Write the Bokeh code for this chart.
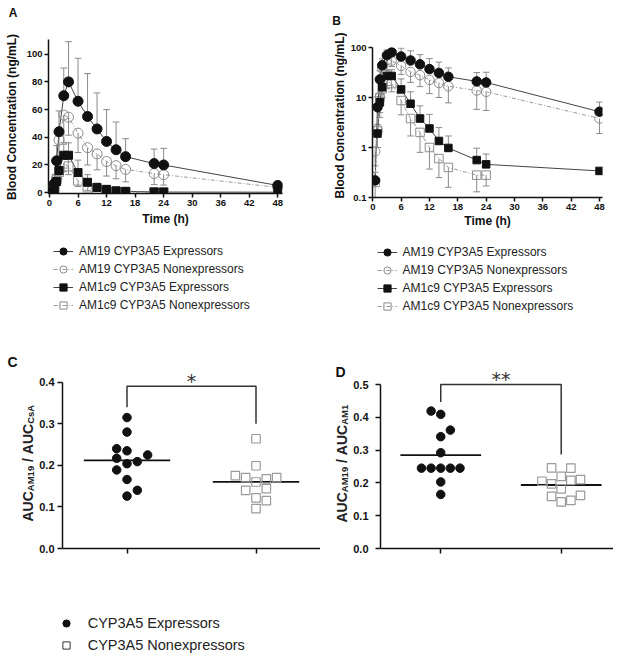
import numpy as np
from bokeh.plotting import figure
from bokeh.layouts import column, row
from bokeh.models import (Range1d, FixedTicker, CustomJSTickFormatter, PrintfTickFormatter,
                          Legend, LegendItem)
from bokeh.core.properties import value
from bokeh.embed import file_html
from bokeh.resources import INLINE

nan = float("nan")

# ---------------- data: panels A / B (mean, SD; ng/mL) ----------------
time_h = [0, 0.5, 1, 1.5, 2, 3, 4, 6, 8, 10, 12, 14, 16, 22, 24, 48]
am19_exp_mean = [0, 0.22, 6.4, 23, 44, 70, 80, 66, 55, 46, 37, 31, 26, 21, 20, 5.2]
am19_exp_sd = [0, 0.1, 4, 11, 15, 20, 29, 31, 31, 26, 23, 20, 13, 10.5, 12, 2.9]
am19_non_mean = [0, 0.83, 2.2, 10, 38, 56, 54.5, 43, 32.5, 28, 22.5, 19.5, 16.8, 13.8, 13, 3.8]
am19_non_sd = [0, 0.4, 1.2, 6, 20, 20, 13, 14, 12.5, 11.5, 10.5, 9.5, 9, 8, 7.5, 1.9]
am1c9_exp_mean = [0, 0, 1.9, 8, 16, 27, 27, 14.5, 7.5, 3.8, 2.4, 1.35, 0.98, 0.56, 0.46, 0.34]
am1c9_exp_sd = [0, 0, 1.0, 4, 8, 8, 9, 9, 5.5, 3, 2.2, 1.15, 0.72, 0.41, 0.28, 0]
am1c9_non_mean = [0, 0.2, 2.2, 10, 15, 21, 19, 8.7, 3.8, 2.0, 1.0, 0.6, 0.4, 0.28, 0.28, nan]
am1c9_non_sd = [0, 0.1, 1.2, 5, 5, 6, 6, 4.2, 2.1, 1.2, 0.63, 0.35, 0.24, 0.15, 0.11, nan]
series_labels = ["AM19 CYP3A5 Expressors", "AM19 CYP3A5 Nonexpressors",
                 "AM1c9 CYP3A5 Expressors", "AM1c9 CYP3A5 Nonexpressors"]
pk_ylabel = "Blood Concentration (ng/mL)"
pk_xlabel = "Time (h)"

lin_x_ticks = [0, 6, 12, 18, 24, 30, 36, 42, 48]
lin_y_ticks = [0, 20, 40, 60, 80, 100]
log_y_ticks = [0.1, 1, 10, 100]

# ---------------- data: panels C / D (AUC ratios per subject) ----------------
groups = ["CYP3A5 Expressors", "CYP3A5 Nonexpressors"]
c_exp = [0.315, 0.28, 0.24, 0.235, 0.225, 0.217, 0.209, 0.204, 0.189, 0.166, 0.14, 0.126]
c_exp_col = [0, 0, -1, 0, 2, -1, 1, 0, -1, 0, 1, 0]
c_non = [0.264, 0.199, 0.1755, 0.1707, 0.160, 0.1675, 0.1707, 0.140, 0.144, 0.122, 0.115, 0.096]
c_non_col = [0, 0, -2, -1, 0, 1, 2, -1, 1, 0, 1, 0]
d_exp = [0.419, 0.409, 0.361, 0.341, 0.292, 0.245, 0.245, 0.245, 0.245, 0.245, 0.203, 0.165]
d_exp_col = [-1, 0, 1, 0, 0, -2, -1, 0, 1, 2, 0, 0]
d_non = [0.246, 0.245, 0.22, 0.205, 0.197, 0.208, 0.21, 0.182, 0.159, 0.162, 0.142, 0.147]
d_non_col = [-1, 1, 0, -2, -1, 1, 2, 0, -1, 2, 0, 1]
c_ticks = [0.0, 0.1, 0.2, 0.3, 0.4]
d_ticks = [0.0, 0.1, 0.2, 0.3, 0.4, 0.5]
sig_c, sig_d = "*", "**"
panel_letters = ["A", "B", "C", "D"]

# ---------------- styles ----------------
FONT = "Liberation Sans"
INK = "#111111"
GRAY = "#8c8c8c"
EB = "#8a8a8a"
styles = [
    dict(marker="circle", fill=INK, line=INK, lcol="#444444", dash="solid", size=10),
    dict(marker="circle", fill=None, line=GRAY, lcol="#9a9a9a", dash="4 2 1 2", size=10),
    dict(marker="square", fill=INK, line=INK, lcol="#444444", dash="solid", size=8),
    dict(marker="square", fill=None, line=GRAY, lcol="#9a9a9a", dash="4 2 1 2", size=9),
]
directions = [1, -1, 1, -1]
means = [am19_exp_mean, am19_non_mean, am1c9_exp_mean, am1c9_non_mean]
sds = [am19_exp_sd, am19_non_sd, am1c9_exp_sd, am1c9_non_sd]


def style_axes(p, tick_size):
    for ax in p.axis:
        ax.axis_line_width = 1.5
        ax.axis_line_color = INK
        ax.major_tick_line_width = 1.5
        ax.major_tick_line_color = INK
        ax.major_tick_in = 0
        ax.major_tick_out = 4
        ax.minor_tick_line_color = None
        ax.major_label_text_font = FONT
        ax.major_label_text_font_size = tick_size
        ax.major_label_text_font_style = "bold"
        ax.major_label_text_color = INK
        ax.major_label_standoff = 2
        ax.axis_label_text_font = FONT
        ax.axis_label_text_font_size = "12px"
        ax.axis_label_text_font_style = "bold"
        ax.axis_label_text_color = INK
    p.grid.visible = False
    p.outline_line_color = None


def strip(w, h):
    s = figure(width=w, height=h, x_range=Range1d(0, w), y_range=Range1d(0, h),
               x_axis_type=None, y_axis_type=None, min_border=0, toolbar_location=None,
               output_backend="svg", outline_line_color=None, frame_align=False)
    s.grid.visible = False
    return s


def put_text(s, x, y, txt, size, angle=0.0, align="left", baseline="middle",
             font=FONT, style="bold", color=INK):
    s.text(x=[x], y=[y], text=[txt], angle=angle, text_font=value(font),
           text_font_size=size, text_font_style=style, text_align=align,
           text_baseline=baseline, text_color=color)


def pk_panel(log):
    common = dict(toolbar_location=None, output_backend="svg", height=232, frame_align=False)
    if not log:
        p = figure(width=287, x_range=Range1d(-0.21, 48.99), y_range=Range1d(-0.6, 110.6),
                   min_border_left=25, min_border_right=28, min_border_top=39,
                   min_border_bottom=39, **common)
    else:
        p = figure(width=266, y_axis_type="log", x_range=Range1d(-0.06, 48.63),
                   y_range=Range1d(0.1, 100), min_border_left=24, min_border_right=11,
                   min_border_top=47, min_border_bottom=35, **common)
    cap = 1.4
    prepared = []
    for m, s in zip(means, sds):
        t = np.asarray(time_h, float)
        m = np.asarray(m, float)
        s = np.asarray(s, float)
        ok = ~np.isnan(m)
        if log:
            ok &= m > 0
        prepared.append((t[ok], m[ok], s[ok]))
    for (t, m, s), d in zip(prepared, directions):
        e = s > 0
        end = m[e] + d * s[e]
        p.segment(t[e], m[e], t[e], end, line_color=EB, line_width=1)
        p.segment(t[e] - cap / 2, end, t[e] + cap / 2, end, line_color=EB, line_width=1)
    for (t, m, s), st in zip(prepared, styles):
        p.line(t, m, line_color=st["lcol"], line_width=1, line_dash=st["dash"])
    for i in [1, 3, 0, 2]:
        t, m, s = prepared[i]
        st = styles[i]
        p.scatter(t, m, marker=st["marker"], size=st["size"] if not log else st["size"] - 0.5,
                  fill_color=st["fill"], line_color=st["line"], line_width=1)
    p.xaxis.ticker = FixedTicker(ticks=lin_x_ticks, minor_ticks=[])
    if log:
        p.yaxis.ticker = FixedTicker(ticks=log_y_ticks, minor_ticks=[])
        p.yaxis.formatter = CustomJSTickFormatter(
            code="return tick < 1 ? tick.toFixed(1) : tick.toFixed(0);")
    else:
        p.yaxis.ticker = FixedTicker(ticks=lin_y_ticks, minor_ticks=[])
    p.xaxis.axis_label = pk_xlabel
    style_axes(p, "9.5px")
    p.xaxis.axis_label_standoff = 3 if not log else 1
    return p


# ---- row 1: A, B ----
sA = strip(23, 232)
put_text(sA, 8.3, 219.6, panel_letters[0], "12px")
put_text(sA, 11, 115.6, pk_ylabel, "12px", angle=np.pi / 2, align="center")
pA = pk_panel(False)
sB = strip(37, 232)
put_text(sB, 21.7, 211.7, panel_letters[1], "12px")
put_text(sB, 29.5, 117, pk_ylabel, "12px", angle=np.pi / 2, align="center")
pB = pk_panel(True)


# ---- row 2: legends of A, B ----
def pk_legend(width, lx, ly):
    p = figure(width=width, height=88, x_range=Range1d(0, 1), y_range=Range1d(0, 1),
               x_axis_type=None, y_axis_type=None, min_border=0, toolbar_location=None,
               output_backend="svg", outline_line_color=None, frame_align=False)
    p.grid.visible = False
    items = []
    for lab, st in zip(series_labels, styles):
        r1 = p.line([-10, -9], [-10, -10], line_color=st["lcol"], line_width=1,
                    line_dash=st["dash"])
        r2 = p.scatter([-10], [-10], marker=st["marker"], fill_color=st["fill"],
                       line_color=st["line"], line_width=1)
        items.append(LegendItem(label=lab, renderers=[r1, r2]))
    leg = Legend(items=items, location=(lx, ly), border_line_color=None,
                 background_fill_alpha=0, padding=0, margin=0, spacing=0,
                 glyph_width=20, glyph_height=18, label_height=18, label_standoff=6,
                 label_text_font=FONT, label_text_font_size="12px", label_text_color="#222222")
    p.add_layout(leg)
    return p


lA = pk_legend(310, 53, 6)
lB = pk_legend(303, 66.5, 4.7)


# ---- row 3: C, D ----
def dot_panel(width, vals_e, col_e, vals_n, col_n, ticks, y_top, y_end, x_end, border_left,
              border_top, frame_h, standoff, bracket, sig, sig_y):
    p = figure(width=width, height=242, x_range=Range1d(0.5, x_end), y_range=Range1d(0, y_end),
               min_border_left=border_left, min_border_right=0,
               min_border_top=border_top, min_border_bottom=242 - border_top - frame_h,
               toolbar_location=None, output_backend="svg", frame_align=False)
    step = 0.08
    xe = 1 + step * np.asarray(col_e, float)
    xn = 2 + step * np.asarray(col_n, float)
    half = 0.335
    me, mn = float(np.mean(vals_e)), float(np.mean(vals_n))
    p.segment([1 - half, 2 - half], [me, mn], [1 + half, 2 + half], [me, mn],
              line_color=INK, line_width=1.8)
    p.scatter(xe, vals_e, marker="circle", size=8.5, fill_color=INK, line_color=INK)
    p.scatter(xn, vals_n, marker="square", size=8.5, fill_color=None, line_color="#9a9a9a",
              line_width=1.2)
    top, left_end, right_end = bracket
    p.line([1, 1, 2, 2], [left_end, top, top, right_end], line_color="#333333", line_width=1.5)
    p.text(x=[1.5], y=[sig_y], text=[sig], text_font=value("DejaVu Sans"),
           text_font_size="19px", text_align="center", text_baseline="middle",
           text_color="#333333")
    p.xaxis.ticker = FixedTicker(ticks=[1, 2], minor_ticks=[])
    p.xaxis.formatter = CustomJSTickFormatter(code="return '';")
    p.yaxis.ticker = FixedTicker(ticks=ticks, minor_ticks=[])
    p.yaxis.formatter = PrintfTickFormatter(format="%.1f")
    p.yaxis.bounds = (0, y_top)
    style_axes(p, "11px")
    for ax in p.axis:
        ax.major_tick_out = 5
    p.xaxis.major_label_text_font_size = "1px"
    p.yaxis.major_label_standoff = standoff
    return p


ADV = {"A": .722, "U": .722, "C": .722, "M": .833, "1": .556, "9": .556, "s": .556,
       "/": .278, " ": .278}


def auc_label(s, x_mid, y0, sub2):
    big, small = 14, 9.5
    parts = [("AUC", big), ("AM19", small), (" ", big), ("/", big), (" ", big),
             ("AUC", big), (sub2, small)]
    y = y0
    for txt, fs in parts:
        w = sum(ADV[c] for c in txt) * fs
        if txt.strip():
            xm = x_mid if fs > 10 else x_mid + 3
            put_text(s, xm, y, txt, f"{fs}px", angle=np.pi / 2, color="#222222")
        y += w


sC = strip(36, 242)
put_text(sC, 7, 200.5, panel_letters[2], "14px")
auc_label(sC, 27, 41, "CsA")
pC = dot_panel(284, c_exp, c_exp_col, c_non, c_non_col, c_ticks, 0.4, 0.4354, 2.5, 24,
               47, 181, 3, (0.39, 0.34, 0.30), sig_c, 0.404)
sD = strip(30, 242)
put_text(sD, 15, 191, panel_letters[3], "14px")
auc_label(sD, 21, 40, "AM1")
pD = dot_panel(263, d_exp, d_exp_col, d_non, d_non_col, d_ticks, 0.5, 0.558, 2.434, 28,
               45, 183, 7, (0.50, 0.447, 0.287), sig_d, 0.5165)

# ---- row 4: legend for C / D ----
pL = figure(width=613, height=92, x_range=Range1d(0, 1), y_range=Range1d(0, 1),
            x_axis_type=None, y_axis_type=None, min_border=0, toolbar_location=None,
            output_backend="svg", outline_line_color=None, frame_align=False)
pL.grid.visible = False
rE = pL.scatter([-10], [-10], marker="circle", fill_color=INK, line_color=INK)
rN = pL.scatter([-10], [-10], marker="square", fill_color=None, line_color="#333333",
                line_width=1)
legL = Legend(items=[LegendItem(label=groups[0], renderers=[rE]),
                     LegendItem(label=groups[1], renderers=[rN])],
              location=(55.7, 0), border_line_color=None, background_fill_alpha=0,
              padding=0, margin=0, spacing=4, glyph_width=20, glyph_height=18,
              label_height=18, label_standoff=12, label_text_font=FONT,
              label_text_font_size="14.5px", label_text_color="#222222")
pL.add_layout(legL)

layout = column(row(sA, pA, sB, pB), row(lA, lB), row(sC, pC, sD, pD), pL)
open("out.html", "w").write(file_html(layout, INLINE))
